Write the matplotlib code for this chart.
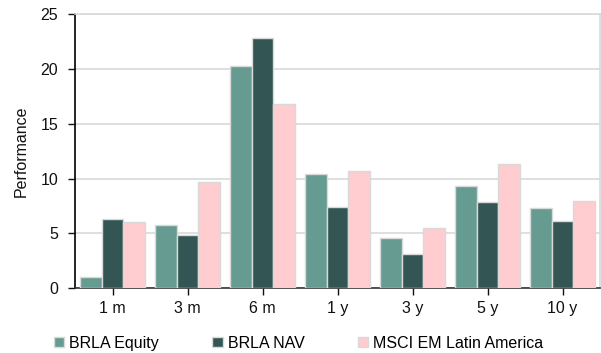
import matplotlib
matplotlib.use('Agg')
import matplotlib.pyplot as plt
import numpy as np

plt.rcParams['font.family'] = ['Liberation Sans', 'DejaVu Sans']

# data
periods = ['1 m', '3 m', '6 m', '1 y', '3 y', '5 y', '10 y']
brla_equity = [1.0, 5.8, 20.3, 10.4, 4.6, 9.3, 7.3]
brla_nav = [6.3, 4.9, 22.8, 7.45, 3.1, 7.85, 6.1]
msci_latam = [6.05, 9.65, 16.8, 10.65, 5.5, 11.3, 7.95]

series = [
    ('BRLA Equity', brla_equity, '#669b91'),
    ('BRLA NAV', brla_nav, '#335654'),
    ('MSCI EM Latin America', msci_latam, '#ffccd0'),
]

fs = 11.5
fig = plt.figure(figsize=(6.01, 3.53), dpi=100)
ax = fig.add_axes([75 / 601, 1 - 288.3 / 353, 525 / 601, (288.3 - 14) / 353])

x = np.arange(len(periods))
w = 0.285
for i, (name, vals, col) in enumerate(series):
    ax.bar(x + (i - 1) * w, vals, width=w, color=col, edgecolor='#d9d9d9',
           linewidth=1, label=name, zorder=3)

ax.set_xlim(-0.5, len(periods) - 0.5)
ax.set_ylim(0, 25)
ax.set_yticks([0, 5, 10, 15, 20, 25])
ax.set_xticks(x)
ax.set_xticklabels(periods)
ax.tick_params(axis='both', labelsize=fs, colors='#111111', length=5, width=1)
ax.tick_params(axis='y', pad=7)
ax.tick_params(axis='x', pad=4)
ax.grid(axis='y', color='#d9d9d9', linewidth=1.2, zorder=0)

ax.spines['left'].set_color('#000000')
ax.spines['bottom'].set_color('#333333')
ax.spines['right'].set_color('#d9d9d9')
ax.spines['top'].set_color('#d9d9d9')
for s in ax.spines.values():
    s.set_linewidth(1.2)

ax.set_ylabel('Performance', fontsize=fs, color='#111111')
ax.yaxis.set_label_coords(-0.088, 0.5)

ax.legend(loc='center left', bbox_to_anchor=(-0.04, -0.2), ncol=3,
          frameon=False, fontsize=fs, handlelength=0.65, handleheight=0.65,
          handletextpad=0.3, columnspacing=3.35, borderaxespad=0, borderpad=0)

plt.savefig('out.png', dpi=100)
